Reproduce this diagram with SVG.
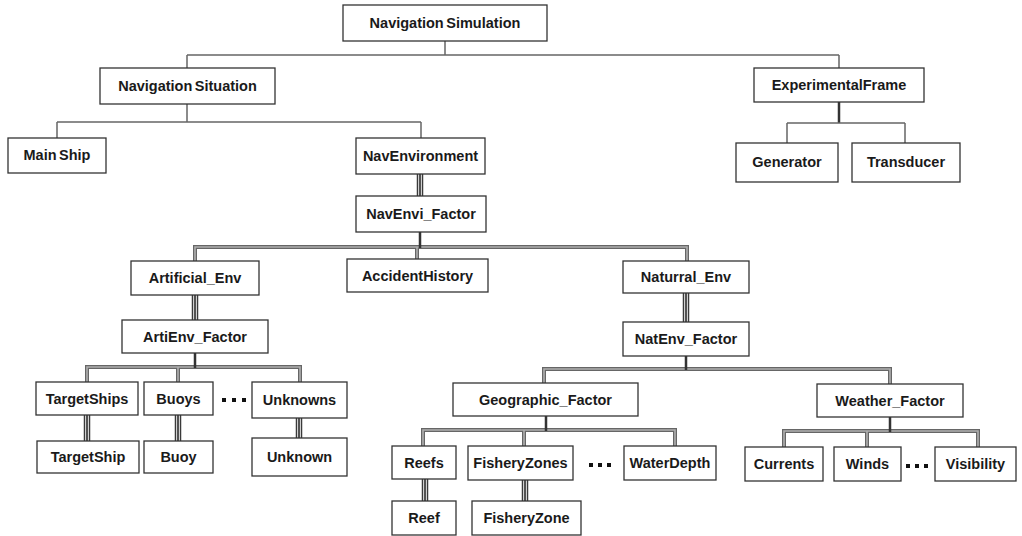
<svg xmlns="http://www.w3.org/2000/svg" width="1022" height="536" viewBox="0 0 1022 536">
  <style>
    .box { fill: #ffffff; stroke: #333333; stroke-width: 1.3; }
    .lbl { font-family: "Liberation Sans", Arial, sans-serif; font-size: 14.5px; font-weight: bold; fill: #1a1a1a; text-anchor: middle; word-spacing: -1.5px; }
    .single { fill: none; stroke: #666666; stroke-width: 1.5; }
    .stem { fill: none; stroke: #333333; stroke-width: 2.5; }
    .dblOuter { fill: none; stroke: #666666; stroke-width: 4; stroke-linejoin: miter; }
    .dblInner { fill: none; stroke: #b0b0b0; stroke-width: 1.6; stroke-linejoin: miter; }
    .triA { fill: none; stroke: #3a3a3a; stroke-width: 6.5; }
    .triB { fill: none; stroke: #d0d0d0; stroke-width: 4; }
    .triC { fill: none; stroke: #2a2a2a; stroke-width: 1.5; }
    .dot { fill: #111111; }
  </style>
  <defs>
    <path id="bus-navenvf" d="M195,261 V247 H687 V261 M417,247 V259"/>
    <path id="bus-artf" d="M87,382 V367 H300 V382 M178,367 V382"/>
    <path id="bus-natf" d="M544,383 V369 H890 V384"/>
    <path id="bus-geo" d="M423,446 V430 H675 V446 M524,430 V446"/>
    <path id="bus-weather" d="M784,447 V431 H978 V447 M867,431 V447"/>
    <path id="tri1" d="M420,174 V196"/>
    <path id="tri2" d="M195,295 V320"/>
    <path id="tri3" d="M686,293 V322"/>
    <path id="tri4" d="M87,415 V441"/>
    <path id="tri5" d="M178,415 V441"/>
    <path id="tri6" d="M299,418 V438"/>
    <path id="tri7" d="M425,479 V501"/>
    <path id="tri8" d="M525,480 V501"/>
  </defs>

  <!-- connectors -->
  <g id="connectors">
    <!-- plain tree links -->
    <path class="single" d="M445,41 V55 M187,55 H839 M187,55 V68 M839,55 V68"/>
    <path class="single" d="M187,104 V122 M57,122 H421 M57,122 V138 M421,122 V138"/>
    <path class="stem" d="M839,102 V123"/>
    <path class="single" d="M787,123 H905 M787,123 V143 M905,123 V143"/>

    <!-- specialization buses -->
    <use href="#bus-navenvf" class="dblOuter"/><use href="#bus-navenvf" class="dblInner"/>
    <use href="#bus-artf" class="dblOuter"/><use href="#bus-artf" class="dblInner"/>
    <use href="#bus-natf" class="dblOuter"/><use href="#bus-natf" class="dblInner"/>
    <use href="#bus-geo" class="dblOuter"/><use href="#bus-geo" class="dblInner"/>
    <use href="#bus-weather" class="dblOuter"/><use href="#bus-weather" class="dblInner"/>
    <path class="stem" d="M420,232 V248 M195,353 V368 M686,356 V370 M546,416 V431 M890,417 V432"/>

    <!-- multiple-decomposition links -->
    <use href="#tri1" class="triA"/><use href="#tri1" class="triB"/><use href="#tri1" class="triC"/>
    <use href="#tri2" class="triA"/><use href="#tri2" class="triB"/><use href="#tri2" class="triC"/>
    <use href="#tri3" class="triA"/><use href="#tri3" class="triB"/><use href="#tri3" class="triC"/>
    <use href="#tri4" class="triA"/><use href="#tri4" class="triB"/><use href="#tri4" class="triC"/>
    <use href="#tri5" class="triA"/><use href="#tri5" class="triB"/><use href="#tri5" class="triC"/>
    <use href="#tri6" class="triA"/><use href="#tri6" class="triB"/><use href="#tri6" class="triC"/>
    <use href="#tri7" class="triA"/><use href="#tri7" class="triB"/><use href="#tri7" class="triC"/>
    <use href="#tri8" class="triA"/><use href="#tri8" class="triB"/><use href="#tri8" class="triC"/>

    <!-- ellipsis marks -->
    <rect class="dot" x="222" y="398" width="4" height="4"/>
    <rect class="dot" x="232" y="398" width="4" height="4"/>
    <rect class="dot" x="242" y="398" width="4" height="4"/>
    <rect class="dot" x="589" y="463" width="4" height="4"/>
    <rect class="dot" x="598" y="463" width="4" height="4"/>
    <rect class="dot" x="607" y="463" width="4" height="4"/>
    <rect class="dot" x="906" y="464" width="4" height="4"/>
    <rect class="dot" x="915" y="464" width="4" height="4"/>
    <rect class="dot" x="924" y="464" width="4" height="4"/>
  </g>

  <!-- nodes -->
  <g id="n-navigation-simulation"><rect class="box" x="343" y="5" width="204" height="36"/><text class="lbl" x="445" y="28">Navigation Simulation</text></g>
  <g id="n-navigation-situation"><rect class="box" x="100" y="68" width="175" height="36"/><text class="lbl" x="187.5" y="91">Navigation Situation</text></g>
  <g id="n-experimental-frame"><rect class="box" x="754" y="68" width="170" height="34"/><text class="lbl" x="839" y="90">ExperimentalFrame</text></g>
  <g id="n-main-ship"><rect class="box" x="8" y="138" width="98" height="35"/><text class="lbl" x="57" y="160">Main Ship</text></g>
  <g id="n-nav-environment"><rect class="box" x="356" y="138" width="129" height="36"/><text class="lbl" x="420.5" y="161">NavEnvironment</text></g>
  <g id="n-generator"><rect class="box" x="736" y="143" width="102" height="39"/><text class="lbl" x="787" y="167">Generator</text></g>
  <g id="n-transducer"><rect class="box" x="852" y="143" width="108" height="39"/><text class="lbl" x="906" y="167">Transducer</text></g>
  <g id="n-navenvi-factor"><rect class="box" x="356" y="196" width="130" height="36"/><text class="lbl" x="421" y="219">NavEnvi_Factor</text></g>
  <g id="n-artificial-env"><rect class="box" x="131" y="261" width="128" height="34"/><text class="lbl" x="195" y="283">Artificial_Env</text></g>
  <g id="n-accident-history"><rect class="box" x="347" y="259" width="141" height="33"/><text class="lbl" x="417.5" y="281">AccidentHistory</text></g>
  <g id="n-naturral-env"><rect class="box" x="623" y="261" width="126" height="32"/><text class="lbl" x="686" y="282">Naturral_Env</text></g>
  <g id="n-artienv-factor"><rect class="box" x="122" y="320" width="146" height="33"/><text class="lbl" x="195" y="342">ArtiEnv_Factor</text></g>
  <g id="n-natenv-factor"><rect class="box" x="623" y="322" width="126" height="34"/><text class="lbl" x="686" y="344">NatEnv_Factor</text></g>
  <g id="n-target-ships"><rect class="box" x="36" y="382" width="102" height="33"/><text class="lbl" x="87" y="404">TargetShips</text></g>
  <g id="n-buoys"><rect class="box" x="144" y="382" width="69" height="33"/><text class="lbl" x="178.5" y="404">Buoys</text></g>
  <g id="n-unknowns"><rect class="box" x="252" y="382" width="95" height="36"/><text class="lbl" x="299.5" y="405">Unknowns</text></g>
  <g id="n-target-ship"><rect class="box" x="37" y="441" width="102" height="32"/><text class="lbl" x="88" y="462">TargetShip</text></g>
  <g id="n-buoy"><rect class="box" x="144" y="441" width="69" height="32"/><text class="lbl" x="178.5" y="462">Buoy</text></g>
  <g id="n-unknown"><rect class="box" x="252" y="438" width="95" height="38"/><text class="lbl" x="299.5" y="462">Unknown</text></g>
  <g id="n-geographic-factor"><rect class="box" x="453" y="383" width="185" height="33"/><text class="lbl" x="545.5" y="405">Geographic_Factor</text></g>
  <g id="n-weather-factor"><rect class="box" x="817" y="384" width="146" height="33"/><text class="lbl" x="890" y="406">Weather_Factor</text></g>
  <g id="n-reefs"><rect class="box" x="392" y="446" width="64" height="33"/><text class="lbl" x="424" y="468">Reefs</text></g>
  <g id="n-fishery-zones"><rect class="box" x="468" y="446" width="105" height="34"/><text class="lbl" x="520.5" y="468">FisheryZones</text></g>
  <g id="n-water-depth"><rect class="box" x="624" y="446" width="92" height="34"/><text class="lbl" x="670" y="468">WaterDepth</text></g>
  <g id="n-currents"><rect class="box" x="745" y="447" width="78" height="34"/><text class="lbl" x="784" y="469">Currents</text></g>
  <g id="n-winds"><rect class="box" x="834" y="447" width="67" height="34"/><text class="lbl" x="867.5" y="469">Winds</text></g>
  <g id="n-visibility"><rect class="box" x="935" y="447" width="81" height="34"/><text class="lbl" x="975.5" y="469">Visibility</text></g>
  <g id="n-reef"><rect class="box" x="392" y="501" width="64" height="34"/><text class="lbl" x="424" y="523">Reef</text></g>
  <g id="n-fishery-zone"><rect class="box" x="472" y="501" width="109" height="34"/><text class="lbl" x="526.5" y="523">FisheryZone</text></g>
</svg>
